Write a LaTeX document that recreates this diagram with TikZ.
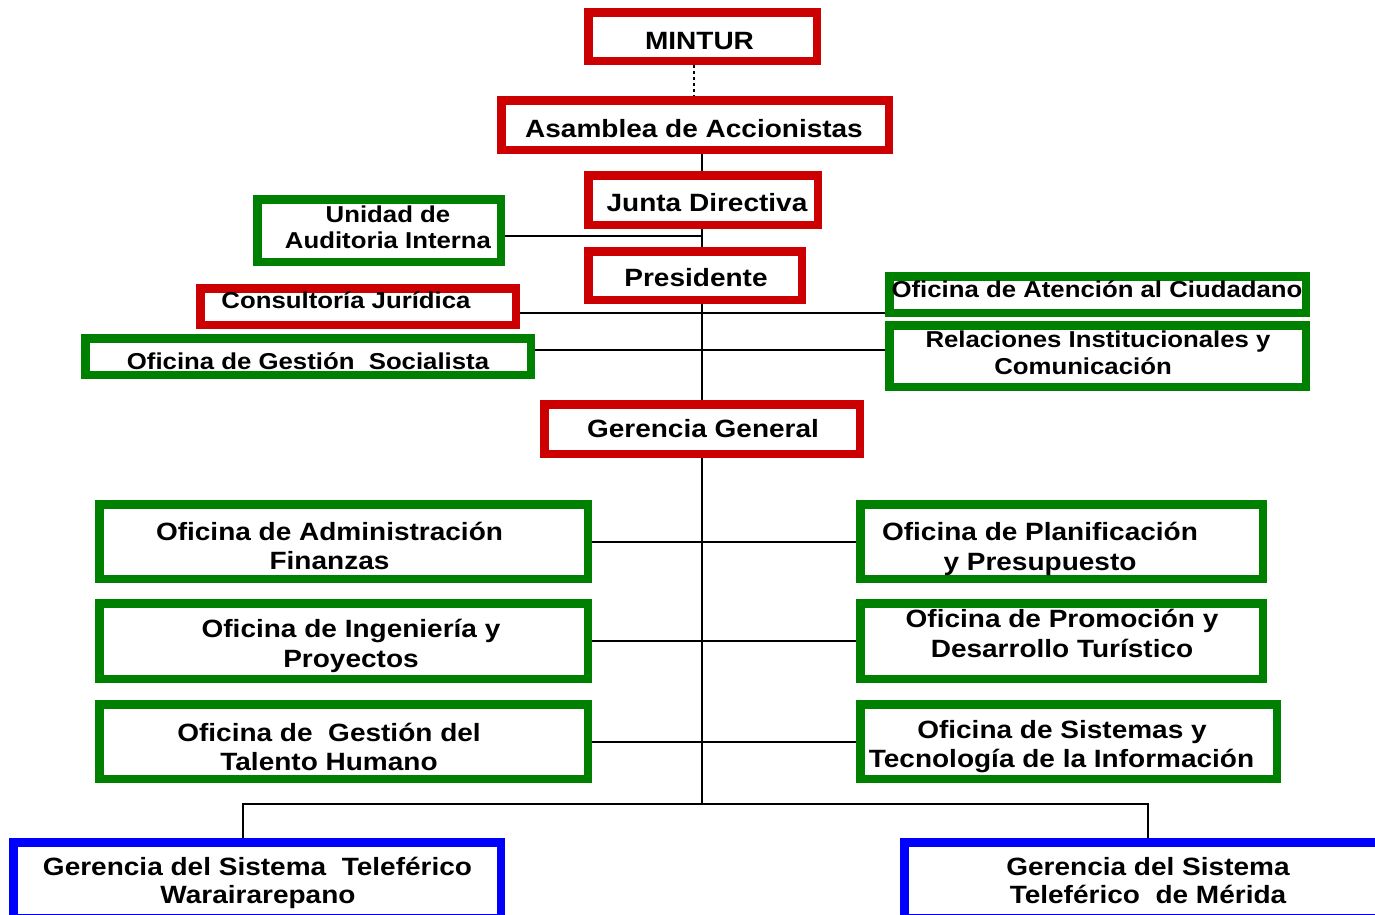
\documentclass[tikz,border=0pt]{standalone}
\usepackage{fontspec}
\setmainfont{Liberation Sans}[FakeStretch=1.12]
\definecolor{orgred}{HTML}{CC0000}
\definecolor{orggreen}{HTML}{008000}
\definecolor{orgblue}{HTML}{0000FF}
\tikzset{
  box/.style={rectangle, line width=8.5pt, fill=white, inner sep=0pt},
  big/.style={font=\fontsize{25}{30}\selectfont\bfseries, inner sep=0pt, anchor=base},
  small/.style={font=\fontsize{23}{26}\selectfont\bfseries, inner sep=0pt, anchor=base},
  conn/.style={line width=2pt, black},
}
\newcommand\obox[6]{%
  \node[box, draw=#2, minimum width={#5-#3-8.5}, minimum height={#6-#4-8.5}]
    (#1) at ({(#3+#5)/2},{(#4+#6)/2}) {};}
\begin{document}
\begin{tikzpicture}[x=1pt,y=-1pt]
\useasboundingbox (0,0) rectangle (1375,914);
% boxes
\obox{mintur}{orgred}{584}{8}{821}{65}
\obox{asamblea}{orgred}{497}{96}{893}{154}
\obox{junta}{orgred}{584}{171}{822}{229}
\obox{presidente}{orgred}{584}{247}{806}{304}
\obox{unidad}{orggreen}{253}{195}{505}{266}
\obox{consultoria}{orgred}{196}{284}{520}{329}
\obox{gestion}{orggreen}{81}{334}{535}{379}
\obox{atencion}{orggreen}{885}{272}{1310}{317}
\obox{relaciones}{orggreen}{885}{321}{1310}{391}
\obox{gerencia}{orgred}{540}{400}{864}{458}
\obox{admin}{orggreen}{95}{500}{592}{583}
\obox{ingenieria}{orggreen}{95}{599}{592}{683}
\obox{talento}{orggreen}{95}{700}{592}{783}
\obox{planif}{orggreen}{856}{500}{1267}{583}
\obox{promo}{orggreen}{856}{599}{1267}{683}
\obox{sistemas}{orggreen}{856}{700}{1281}{783}
\obox{waira}{orgblue}{9}{838}{505}{922}
\obox{merida}{orgblue}{900}{838}{1400}{922}
% helper coordinates
\coordinate (dx) at (694,0);
\coordinate (tk) at (702,0);
\coordinate (y236) at (0,236);
\coordinate (y313) at (0,313);
\coordinate (y350) at (0,350);
\coordinate (jn) at (702,804);
\coordinate (bl) at (243,804);
\coordinate (br) at (1148,804);
% connectors
\draw[conn, dash pattern=on 3pt off 3pt] (mintur.south -| dx) -- (asamblea.north -| dx);
\draw[conn] (asamblea.south -| tk) -- (junta.north -| tk);
\draw[conn] (junta.south -| tk) -- (presidente.north -| tk);
\draw[conn] (unidad.east |- y236) -- (tk |- y236);
\draw[conn] (presidente.south -| tk) -- (gerencia.north -| tk);
\draw[conn] (consultoria.east |- y313) -- (atencion.west |- y313);
\draw[conn] (gestion.east |- y350) -- (relaciones.west |- y350);
\draw[conn] (gerencia.south -| tk) -- (jn);
\draw[conn] (admin.east) -- (admin.east -| planif.west);
\draw[conn] (ingenieria.east) -- (ingenieria.east -| promo.west);
\draw[conn] (talento.east) -- (talento.east -| sistemas.west);
\draw[conn] (waira.north -| bl) -- (bl) -- (br) -- (merida.north -| br);
% texts
\node[big] (t1) at (699.5,49) {MINTUR};
\node[big] (t2) at (694,137) {Asamblea de Accionistas};
\node[big] (t3) at (707,211) {Junta Directiva};
\node[big] (t4) at (696,286) {Presidente};
\node[small] (t5a) at (388,222) {Unidad de};
\node[small] (t5b) at (388,248) {Auditoria Interna};
\node[small] (t6) at (346,308) {Consultoría Jurídica};
\node[small] (t7) at (308,369) {Oficina de Gestión~ Socialista};
\node[small] (t8) at (1097,297) {Oficina de Atención al Ciudadano};
\node[small] (t9a) at (1098,347) {Relaciones Institucionales y};
\node[small] (t9b) at (1083,374) {Comunicación};
\node[big] (t10) at (703,437) {Gerencia General};
\node[big] (t11a) at (329.5,540) {Oficina de Administración};
\node[big] (t11b) at (329.5,569) {Finanzas};
\node[big] (t12a) at (351,637) {Oficina de Ingeniería y};
\node[big] (t12b) at (351,667) {Proyectos};
\node[big] (t13a) at (329,741) {Oficina de~ Gestión del};
\node[big] (t13b) at (329,770) {Talento Humano};
\node[big] (t14a) at (1040,540) {Oficina de Planificación};
\node[big] (t14b) at (1040,570) {y Presupuesto};
\node[big] (t15a) at (1062,627) {Oficina de Promoción y};
\node[big] (t15b) at (1062,657) {Desarrollo Turístico};
\node[big] (t16a) at (1062,738) {Oficina de Sistemas y};
\node[big] (t16b) at (1061.5,767) {Tecnología de la Información};
\node[big] (t17a) at (257.5,875) {Gerencia del Sistema~ Teleférico};
\node[big] (t17b) at (258,903) {Warairarepano};
\node[big] (t18a) at (1148,875) {Gerencia del Sistema};
\node[big] (t18b) at (1148,903) {Teleférico~ de Mérida};
\end{tikzpicture}
\end{document}
